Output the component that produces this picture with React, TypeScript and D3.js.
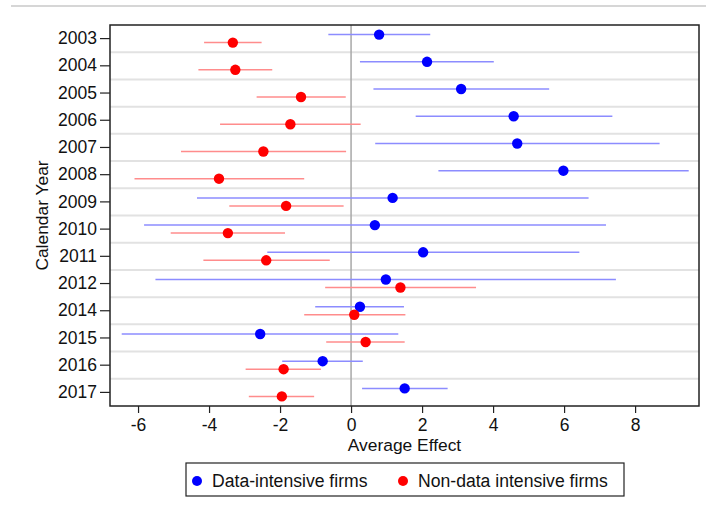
import React, { useRef, useEffect } from 'react'
import * as d3 from 'd3'

const years = ['2003', '2004', '2005', '2006', '2007', '2008', '2009', '2010', '2011', '2012', '2014', '2015', '2016', '2017']

// data-intensive firms: estimate, lower, upper
const dataEst = [0.79, 2.14, 3.10, 4.58, 4.68, 5.98, 1.17, 0.67, 2.03, 0.98, 0.25, -2.56, -0.80, 1.51]
const dataLo = [-0.64, 0.25, 0.63, 1.82, 0.68, 2.46, -4.34, -5.83, -2.36, -5.51, -1.01, -6.46, -1.94, 0.31]
const dataHi = [2.23, 4.02, 5.58, 7.36, 8.69, 9.51, 6.69, 7.18, 6.43, 7.46, 1.49, 1.33, 0.33, 2.72]

// non-data intensive firms
const nonEst = [-3.33, -3.26, -1.41, -1.71, -2.47, -3.72, -1.83, -3.47, -2.39, 1.39, 0.09, 0.41, -1.90, -1.95]
const nonLo = [-4.14, -4.30, -2.66, -3.69, -4.79, -6.10, -3.43, -5.08, -4.16, -0.73, -1.32, -0.70, -2.97, -2.88]
const nonHi = [-2.52, -2.22, -0.15, 0.27, -0.14, -1.32, -0.21, -1.86, -0.60, 3.52, 1.53, 1.51, -0.85, -1.04]

const xTicks = [-6, -4, -2, 0, 2, 4, 6, 8]
const legendLabels = ['Data-intensive firms', 'Non-data intensive firms']

const font = '"Liberation Sans", Arial, sans-serif'

export default function App() {
  const ref = useRef<SVGSVGElement>(null)
  const layout = { width: 706, height: 518, left: 110, right: 699, top: 25, bottom: 406 }

  useEffect(() => {
    const svg = d3.select(ref.current)
    svg.selectAll('*').remove()

    const x = d3.scaleLinear().domain([-6.79, 9.8]).range([layout.left, layout.right])
    const y = d3.scaleBand().domain(years).range([layout.top, layout.bottom])

    // top rule of the page
    svg.append('line')
      .attr('x1', 11).attr('x2', 706).attr('y1', 6).attr('y2', 6)
      .attr('stroke', '#c8c8c8').attr('stroke-width', 1.5)

    // row separators
    svg.append('g')
      .selectAll('line')
      .data(years.slice(1))
      .join('line')
      .attr('x1', layout.left).attr('x2', layout.right)
      .attr('y1', d => y(d)!).attr('y2', d => y(d)!)
      .attr('stroke', '#e2e2e2').attr('stroke-width', 2)

    // zero line
    svg.append('line')
      .attr('x1', x(0)).attr('x2', x(0))
      .attr('y1', layout.top).attr('y2', layout.bottom)
      .attr('stroke', '#a8a8a8').attr('stroke-width', 1.5)

    const series = [
      { est: dataEst, lo: dataLo, hi: dataHi, off: -4, line: '#8c8cff', dot: '#0000ff' },
      { est: nonEst, lo: nonLo, hi: nonHi, off: 4, line: '#ff8c8c', dot: '#ff0000' },
    ]

    series.forEach(s => {
      const g = svg.append('g')
      const rows = years.map((yr, i) => ({ yr, est: s.est[i], lo: s.lo[i], hi: s.hi[i] }))
      const cy = (d: any) => y(d.yr)! + y.bandwidth() / 2 + s.off
      g.selectAll('line')
        .data(rows)
        .join('line')
        .attr('x1', d => x(d.lo)).attr('x2', d => x(d.hi))
        .attr('y1', cy).attr('y2', cy)
        .attr('stroke', s.line).attr('stroke-width', 1.5)
      g.selectAll('circle')
        .data(rows)
        .join('circle')
        .attr('cx', d => x(d.est)).attr('cy', cy)
        .attr('r', 5.2)
        .attr('fill', s.dot)
    })

    // frame
    svg.append('rect')
      .attr('x', layout.left).attr('y', layout.top)
      .attr('width', layout.right - layout.left).attr('height', layout.bottom - layout.top)
      .attr('fill', 'none').attr('stroke', '#222').attr('stroke-width', 1.5)

    const xAxis = svg.append('g')
      .attr('transform', `translate(0, ${layout.bottom})`)
      .call(d3.axisBottom(x).tickValues(xTicks).tickSize(7).tickPadding(6).tickFormat(d => String(d)))
    xAxis.select('.domain').remove()
    xAxis.selectAll('line').attr('stroke', '#222').attr('stroke-width', 1.2)
    xAxis.selectAll('text').attr('font-family', font).attr('font-size', 17.5).attr('fill', '#111')

    const yAxis = svg.append('g')
      .attr('transform', `translate(${layout.left}, 0)`)
      .call(d3.axisLeft(y).tickSize(10).tickPadding(3))
    yAxis.select('.domain').remove()
    yAxis.selectAll('line').attr('stroke', '#222').attr('stroke-width', 1.2)
    yAxis.selectAll('text').attr('font-family', font).attr('font-size', 17.5).attr('fill', '#111')

    svg.append('text')
      .attr('x', (layout.left + layout.right) / 2).attr('y', 451)
      .attr('text-anchor', 'middle')
      .attr('font-family', font).attr('font-size', 17.4).attr('fill', '#111')
      .text('Average Effect')

    svg.append('text')
      .attr('transform', `translate(48, ${(layout.top + layout.bottom) / 2}) rotate(-90)`)
      .attr('text-anchor', 'middle')
      .attr('font-family', font).attr('font-size', 17.4).attr('fill', '#111')
      .text('Calendar Year')

    // legend
    const lg = svg.append('g')
    lg.append('rect')
      .attr('x', 186).attr('y', 463).attr('width', 438).attr('height', 33)
      .attr('fill', 'white').attr('stroke', '#222').attr('stroke-width', 1.2)
    const items = [
      { label: legendLabels[0], color: '#0000ff', x: 197 },
      { label: legendLabels[1], color: '#ff0000', x: 403 },
    ]
    items.forEach(it => {
      lg.append('circle').attr('cx', it.x).attr('cy', 481).attr('r', 5).attr('fill', it.color)
      lg.append('text')
        .attr('x', it.x + 15).attr('y', 487)
        .attr('font-family', font).attr('font-size', 17.6).attr('fill', '#111')
        .text(it.label)
    })
  }, [])

  return (
    <div style={{ position: 'absolute', left: 0, top: 0 }}>
      <svg ref={ref} width={layout.width} height={layout.height} style={{ display: 'block', background: 'white' }} />
    </div>
  )
}
